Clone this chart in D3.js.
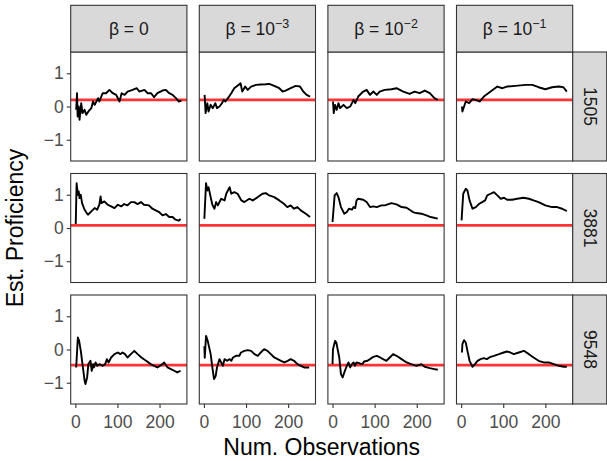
<!DOCTYPE html>
<meta charset="utf-8">
<style>
body { margin: 0; background: #fff; }
text { font-family: "Liberation Sans", Arial, sans-serif; }
</style>
<svg id="vis" width="607" height="461"></svg>
<script src="https://cdn.jsdelivr.net/npm/d3@7"></script>
<script>

// facet labels
var betaExps = ["0", "-3", "-2", "-1"];
var learners = ["1505", "3881", "9548"];
var trueProf = [0.2, 0.08, -0.47];   // red line per learner
var xTicks = [0, 100, 200];
var yTicks = [-1, 0, 1];

// estimated proficiency, [num. observations, estimate]
var l1505_b0 = [[2,-0.1],[4,0.4],[5.5,-0.3],[8,0],[10,-0.4],[14,0.1],[17,-0.2],[22,-0.1],[26,-0.25],[31,-0.15],[38,-0.05],[42,0.15],[46,0.05],[54,0.25],[57,0.15],[65,0.4],[73,0.4],[81,0.5],[89,0.4],[97,0.35],[105,0.15],[110,0.4],[117,0.35],[124,0.45],[136,0.5],[146,0.55],[152,0.45],[164,0.5],[172,0.4],[180,0.4],[187,0.28],[195,0.4],[207,0.48],[215,0.5],[223,0.4],[231,0.35],[239,0.25],[246,0.15],[252,0.18]];
var l1505_b3 = [[1.6,0.35],[4,-0.2],[8,0.1],[11,-0.15],[16,0.05],[21,-0.05],[27,0.1],[31,-0.05],[37,0],[43,0.1],[47,0.2],[51,0.15],[57,0.25],[65,0.4],[72,0.55],[82,0.65],[87,0.7],[91,0.45],[98,0.6],[104,0.5],[112,0.6],[124,0.65],[135,0.66],[147,0.67],[155,0.68],[167,0.62],[179,0.55],[187,0.45],[194,0.48],[206,0.55],[218,0.62],[228,0.6],[236,0.45],[244,0.35],[252,0.3]];
var l1505_b2 = [[1,0.15],[3,-0.2],[6,0.05],[10,-0.1],[14,0.1],[18,-0.05],[26,0.05],[34,-0.05],[42,0],[50,0.2],[54,0.1],[61,0.3],[73,0.45],[81,0.5],[89,0.35],[97,0.45],[105,0.35],[112,0.45],[124,0.5],[140,0.52],[152,0.55],[168,0.45],[183,0.38],[195,0.45],[207,0.4],[219,0.48],[231,0.4],[242,0.25],[250,0.2]];
var l1505_b1 = [[2,0],[3,-0.15],[11,0.15],[19,0.1],[27,0.22],[39,0.18],[44,0.15],[54,0.3],[70,0.45],[86,0.6],[98,0.55],[109,0.6],[129,0.62],[153,0.65],[169,0.65],[184,0.58],[200,0.52],[216,0.58],[232,0.6],[243,0.58],[251,0.45]];

var l3881_b0 = [[1,0.12],[3,1.35],[6,1.0],[8,1.1],[10,0.9],[13,1.0],[16,0.75],[22,0.55],[27,0.45],[30,0.4],[38,0.5],[46,0.6],[52,0.55],[57,0.7],[60,0.95],[62,0.75],[69,0.8],[77,0.7],[85,0.65],[93,0.6],[101,0.7],[109,0.65],[116,0.72],[124,0.68],[132,0.78],[140,0.78],[148,0.72],[156,0.78],[163,0.7],[175,0.68],[183,0.58],[191,0.53],[199,0.48],[207,0.38],[215,0.42],[223,0.33],[231,0.33],[238,0.25],[246,0.22],[250,0.27]];
var l3881_b3 = [[1,0.28],[5,1.35],[8,1.13],[11,1.23],[16,0.93],[20,0.7],[25,0.58],[29,0.78],[33,0.68],[41,0.88],[49,0.83],[53,1.03],[61,1.23],[65,1.03],[72,1.08],[80,1.03],[89,0.83],[96,0.78],[108,0.88],[116,0.83],[128,0.93],[139,1.03],[147,1.05],[155,0.98],[167,0.93],[179,0.83],[190,0.73],[198,0.63],[206,0.68],[214,0.58],[222,0.63],[230,0.53],[242,0.43],[252,0.33]];
var l3881_b2 = [[0,0.18],[5,0.98],[10,1.05],[14,0.93],[20,0.63],[28,0.43],[34,0.48],[39,0.58],[46,0.55],[50,0.63],[54,0.6],[57,0.83],[61,0.88],[73,0.85],[81,0.78],[89,0.63],[97,0.65],[105,0.63],[116,0.68],[124,0.68],[140,0.75],[152,0.71],[164,0.63],[176,0.61],[191,0.48],[199,0.45],[211,0.43],[223,0.38],[233,0.33],[250,0.28]];
var l3881_b1 = [[1,0.23],[5,1.03],[11,1.18],[15,1.13],[20,0.83],[27,0.58],[35,0.63],[43,0.73],[50,0.78],[57,0.83],[62,0.98],[70,1.03],[78,1.08],[86,0.98],[94,0.88],[102,0.91],[109,0.85],[121,0.85],[133,0.88],[148,0.91],[161,0.88],[172,0.83],[184,0.78],[200,0.68],[216,0.63],[228,0.63],[240,0.58],[251,0.51]];

var l9548_b0 = [[2,-0.54],[6,0.36],[9,0.26],[13,-0.04],[17,-0.44],[22,-0.94],[24,-1.04],[28,-0.84],[31,-0.44],[36,-0.34],[39,-0.64],[42,-0.44],[44,-0.54],[48,-0.39],[52,-0.49],[57,-0.44],[65,-0.49],[71,-0.44],[75,-0.29],[79,-0.39],[85,-0.24],[93,-0.14],[101,-0.09],[107,-0.14],[112,-0.09],[118,-0.14],[124,-0.24],[132,-0.14],[140,-0.04],[148,-0.14],[157,-0.24],[168,-0.34],[179,-0.44],[187,-0.49],[195,-0.54],[207,-0.44],[211,-0.39],[219,-0.54],[227,-0.59],[235,-0.64],[242,-0.69],[250,-0.64]];
var l9548_b3 = [[1,0.1],[2,-0.25],[5,0.41],[9,0.26],[16,-0.14],[20,-0.54],[24,-0.89],[28,-0.79],[31,-0.54],[37,-0.29],[41,-0.39],[45,-0.49],[49,-0.29],[55,-0.34],[61,-0.29],[65,-0.34],[69,-0.24],[76,-0.19],[84,-0.19],[88,-0.09],[96,-0.04],[104,-0.02],[112,-0.04],[120,-0.14],[128,-0.19],[135,-0.09],[143,0.01],[151,-0.04],[159,-0.14],[167,-0.24],[175,-0.29],[183,-0.34],[191,-0.39],[199,-0.34],[206,-0.29],[214,-0.34],[222,-0.44],[230,-0.49],[238,-0.54],[250,-0.54]];
var l9548_b2 = [[0,-0.44],[1,0],[6,0.26],[9,0.21],[16,-0.24],[20,-0.74],[24,-0.84],[28,-0.69],[34,-0.49],[38,-0.39],[42,-0.54],[46,-0.44],[50,-0.39],[53,-0.49],[57,-0.39],[65,-0.42],[71,-0.44],[75,-0.36],[83,-0.34],[89,-0.29],[97,-0.22],[105,-0.19],[113,-0.24],[120,-0.29],[128,-0.34],[136,-0.24],[144,-0.14],[152,-0.19],[164,-0.29],[176,-0.39],[187,-0.44],[199,-0.49],[207,-0.46],[211,-0.44],[219,-0.52],[231,-0.56],[242,-0.59],[250,-0.61]];
var l9548_b1 = [[2,-0.09],[3,0.16],[7,0.28],[11,0.21],[15,-0.04],[20,-0.34],[27,-0.52],[33,-0.44],[39,-0.34],[46,-0.29],[54,-0.26],[61,-0.29],[70,-0.22],[78,-0.19],[90,-0.14],[101,-0.09],[109,-0.06],[117,-0.09],[125,-0.14],[137,-0.09],[149,-0.04],[161,-0.14],[172,-0.24],[184,-0.34],[196,-0.39],[208,-0.39],[220,-0.44],[232,-0.49],[244,-0.52],[251,-0.52]];

var series = [
    [l1505_b0, l1505_b3, l1505_b2, l1505_b1],
    [l3881_b0, l3881_b3, l3881_b2, l3881_b1],
    [l9548_b0, l9548_b3, l9548_b2, l9548_b1]
];

// layout
var svg = d3.select("#vis");
var panelLeft = 70.7, panelTop = 52;
var panelW = 116.2, panelH = 109;
var gapX = 12.4, gapY = 12.5;
var stripTop = 5.3, stripW = 34;
var border = "#333333", stripFill = "#d9d9d9";
var font = "'Liberation Sans', Arial, sans-serif";

var x = d3.scaleLinear().domain([-11, 265]).range([0, panelW]);
var y = d3.scaleLinear().domain([-1.64, 1.64]).range([panelH, 0]);

var line = d3.line().x(d => x(d[0])).y(d => y(d[1]));

learners.forEach(function (lr, r) {
    betaExps.forEach(function (b, c) {
        var g = svg.append("g")
            .attr("transform", "translate(" + (panelLeft + c * (panelW + gapX)) + "," + (panelTop + r * (panelH + gapY)) + ")");

        g.append("rect").attr("width", panelW).attr("height", panelH).attr("fill", "#fff");

        g.append("line")
            .attr("x1", 0).attr("x2", panelW)
            .attr("y1", y(trueProf[r])).attr("y2", y(trueProf[r]))
            .attr("stroke", "#ff3333").attr("stroke-width", 2.6);

        g.append("path").datum(series[r][c])
            .attr("d", line).attr("fill", "none")
            .attr("stroke", "#000").attr("stroke-width", 1.9)
            .attr("stroke-linejoin", "round");

        g.append("rect").attr("width", panelW).attr("height", panelH)
            .attr("fill", "none").attr("stroke", border).attr("stroke-width", 1.1);

        // y axis on first column
        if (c === 0) {
            var ya = g.append("g").call(d3.axisLeft(y).tickValues(yTicks).tickSize(4).tickPadding(3)
                .tickFormat(d => d < 0 ? "\u2212" + Math.abs(d) : d));
            ya.select(".domain").remove();
            ya.selectAll("line").attr("stroke", border).attr("stroke-width", 1.1);
            ya.selectAll("text").attr("fill", "#4d4d4d").style("font-size", "17.5px")
                .style("font-family", font);
        }
        // x axis on last row
        if (r === learners.length - 1) {
            var xa = g.append("g").attr("transform", "translate(0," + panelH + ")")
                .call(d3.axisBottom(x).tickValues(xTicks).tickSize(4).tickPadding(8));
            xa.select(".domain").remove();
            xa.selectAll("line").attr("stroke", border).attr("stroke-width", 1.1);
            xa.selectAll("text").attr("fill", "#4d4d4d").style("font-size", "17.5px")
                .style("font-family", font);
        }
    });

    // row strip
    var sy = panelTop + r * (panelH + gapY);
    var sx = panelLeft + 4 * panelW + 3 * gapX;
    svg.append("rect").attr("x", sx).attr("y", sy).attr("width", stripW).attr("height", panelH)
        .attr("fill", stripFill).attr("stroke", border).attr("stroke-width", 1.1);
    svg.append("text")
        .attr("transform", "translate(" + (sx + stripW / 2) + "," + (sy + panelH / 2) + ") rotate(90)")
        .attr("text-anchor", "middle").attr("dy", "0.35em")
        .attr("fill", "#1a1a1a").style("font-size", "17.5px")
        .text(lr);
});

// column strips
betaExps.forEach(function (b, c) {
    var sx = panelLeft + c * (panelW + gapX);
    svg.append("rect").attr("x", sx).attr("y", stripTop).attr("width", panelW).attr("height", panelTop - stripTop)
        .attr("fill", stripFill).attr("stroke", border).attr("stroke-width", 1.1);
    var t = svg.append("text")
        .attr("x", sx + panelW / 2).attr("y", (stripTop + panelTop) / 2 + 6.5)
        .attr("text-anchor", "middle").attr("fill", "#1a1a1a").style("font-size", "17.5px");
    if (b === "0") {
        t.text("\u03b2 = 0");
    } else {
        t.append("tspan").text("\u03b2 = 10");
        t.append("tspan").attr("dy", -7.5).style("font-size", "12.5px").text("\u2212" + b.slice(1));
    }
});

// axis titles
var midX = panelLeft + (4 * panelW + 3 * gapX) / 2;
var midY = panelTop + (3 * panelH + 2 * gapY) / 2;
svg.append("text").attr("x", midX).attr("y", 455)
    .attr("text-anchor", "middle").attr("fill", "#000").style("font-size", "23px")
    .text("Num. Observations");
svg.append("text")
    .attr("transform", "translate(23," + midY + ") rotate(-90)")
    .attr("text-anchor", "middle").attr("fill", "#000").style("font-size", "23px")
    .text("Est. Proficiency");

</script>
